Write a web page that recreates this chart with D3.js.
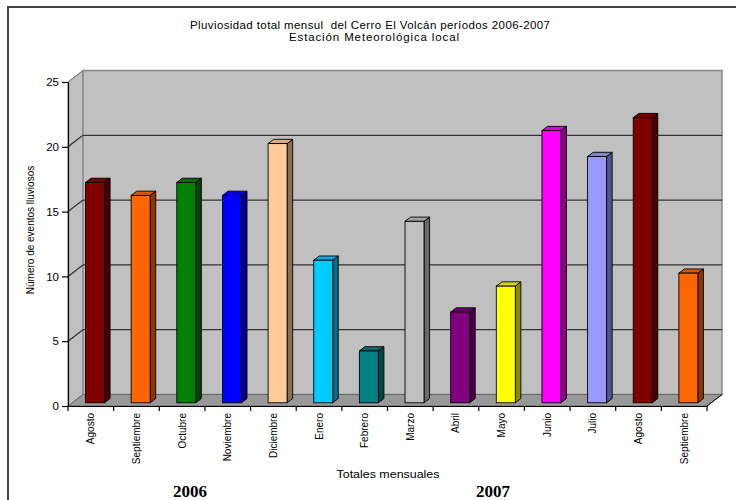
<!DOCTYPE html>
<html>
<head>
<meta charset="utf-8">
<script src="https://cdn.jsdelivr.net/npm/d3@7"></script>
<style>
  html, body { margin: 0; padding: 0; background: #fff; }
  svg { display: block; }
  text { font-family: Arial, "Liberation Sans", sans-serif; fill: #000; }
</style>
</head>
<body>
<svg id="chart" width="736" height="500"></svg>
<script>
// Monthly rainfall events, Cerro El Volcán, Aug 2006 – Sep 2007
const months = ["Agosto", "Septiembre", "Octubre", "Noviembre", "Diciembre", "Enero",
  "Febrero", "Marzo", "Abril", "Mayo", "Junio", "Julio", "Agosto", "Septiembre"];
const eventos = [17, 16, 17, 16, 20, 11, 4, 14, 7, 9, 21, 19, 22, 10];
const colores = ["#800000", "#ff6600", "#008000", "#0000ff", "#ffcc99", "#00ccff",
  "#008080", "#c0c0c0", "#800080", "#ffff00", "#ff00ff", "#9999ff", "#800000", "#ff6600"];
const yTicks = [0, 5, 10, 15, 20, 25];
const yearLabels = ["2006", "2007"];
const titleLines = ["Pluviosidad total mensul  del Cerro El Volcán períodos 2006-2007",
  "Estación Meteorológica local"];

const svg = d3.select("#chart");

// plot frame (front plane) and 3D depth offset
const plotL = 68, plotR = 707, plotB = 406, plotT = 82;
const DX = 15, DY = -11.5;

const x = d3.scaleBand().domain(d3.range(months.length)).range([plotL, plotR]).paddingInner(0);
const y = d3.scaleLinear().domain([0, 25]).range([plotB, plotT]);

// outer border
svg.append("path")
  .attr("d", `M8,500 L8,7 L736,7`)
  .attr("fill", "none").attr("stroke", "#444").attr("stroke-width", 2);

// titles
const titleLayout = [{ cx: 370, by: 28.5, w: 360 }, { cx: 374, by: 40.5, w: 170 }];
svg.append("g").selectAll("text").data(titleLines).join("text")
  .attr("x", (d, i) => titleLayout[i].cx).attr("y", (d, i) => titleLayout[i].by)
  .attr("text-anchor", "middle").style("white-space", "pre")
  .attr("textLength", (d, i) => titleLayout[i].w).attr("lengthAdjust", "spacing")
  .attr("font-size", 11.5).text(d => d);

const pt = (a, b) => a + "," + b;

// walls and floor
const g = svg.append("g");
g.append("polygon")
  .attr("points", [pt(plotL, plotB), pt(plotL, plotT), pt(plotL + DX, plotT + DY), pt(plotL + DX, plotB + DY)].join(" "))
  .attr("fill", "#c0c0c0").attr("stroke", "#888").attr("stroke-width", 1);
g.append("polygon")
  .attr("points", [pt(plotL + DX, plotT + DY), pt(plotR + DX, plotT + DY), pt(plotR + DX, plotB + DY), pt(plotL + DX, plotB + DY)].join(" "))
  .attr("fill", "#c0c0c0").attr("stroke", "#888").attr("stroke-width", 1.5);
g.append("polygon")
  .attr("points", [pt(plotL, plotB), pt(plotR, plotB), pt(plotR + DX, plotB + DY), pt(plotL + DX, plotB + DY)].join(" "))
  .attr("fill", "#999").attr("stroke", "#666").attr("stroke-width", 1);

// gridlines on back wall + side wall
const grid = yTicks.filter(v => v > 0 && v < 25);
g.selectAll(".gridBack").data(grid).join("line")
  .attr("x1", plotL + DX).attr("x2", plotR + DX)
  .attr("y1", d => y(d) + DY).attr("y2", d => y(d) + DY)
  .attr("stroke", "#333").attr("stroke-width", 1.3);
g.selectAll(".gridSide").data(grid).join("line")
  .attr("x1", plotL).attr("x2", plotL + DX)
  .attr("y1", d => y(d)).attr("y2", d => y(d) + DY)
  .attr("stroke", "#333").attr("stroke-width", 1.3);
g.append("line")
  .attr("x1", plotL).attr("x2", plotL + DX).attr("y1", y(25)).attr("y2", y(25) + DY)
  .attr("stroke", "#777").attr("stroke-width", 1);

// bars as boxes
const t0 = 0.28, t1 = 0.65, barW = 19;
const bdx = (t1 - t0) * DX, bdy = (t1 - t0) * DY;
function shade(c, k) {
  const r = d3.rgb(c);
  return d3.rgb(r.r * k, r.g * k, r.b * k).formatHex();
}
const bars = svg.append("g").selectAll("g").data(eventos.map((v, i) => ({ v, i }))).join("g");
bars.each(function (d) {
  const sel = d3.select(this);
  const x0 = x(d.i) + x.bandwidth() / 2 + t0 * DX - barW / 2;
  const x1 = x0 + barW;
  const yt = y(d.v) + t0 * DY, yb = y(0) + t0 * DY;
  const c = colores[d.i];
  sel.append("polygon")
    .attr("points", [pt(x1, yt), pt(x1 + bdx, yt + bdy), pt(x1 + bdx, yb + bdy), pt(x1, yb)].join(" "))
    .attr("fill", shade(c, 0.55)).attr("stroke", "#000").attr("stroke-width", 0.9).attr("stroke-linejoin", "round");
  sel.append("polygon")
    .attr("points", [pt(x0, yt), pt(x0 + bdx, yt + bdy), pt(x1 + bdx, yt + bdy), pt(x1, yt)].join(" "))
    .attr("fill", shade(c, 0.85)).attr("stroke", "#000").attr("stroke-width", 0.9).attr("stroke-linejoin", "round");
  sel.append("rect")
    .attr("x", x0).attr("y", yt).attr("width", barW).attr("height", yb - yt)
    .attr("fill", c).attr("stroke", "#000").attr("stroke-width", 0.9);
});

// y axis
const yAxis = svg.append("g").attr("transform", `translate(${plotL},0)`)
  .call(d3.axisLeft(y).tickValues(yTicks).tickSize(6).tickSizeOuter(0).tickPadding(3));
yAxis.selectAll("text").attr("font-size", 11.5).attr("font-family", "Arial, 'Liberation Sans', sans-serif");
yAxis.selectAll("line, path").attr("stroke", "#000").attr("stroke-width", 1.2);

// x axis with labels at category centres
const xAxis = svg.append("g").attr("transform", `translate(0,${plotB})`)
  .call(d3.axisBottom(x).tickFormat(i => months[i]).tickSize(0).tickSizeOuter(0));
xAxis.select("path").attr("stroke", "#000").attr("stroke-width", 1.2);
xAxis.selectAll("text")
  .attr("font-size", 10).attr("font-family", "Arial, 'Liberation Sans', sans-serif")
  .attr("transform", "rotate(-90)")
  .attr("x", -7).attr("y", 0).attr("dy", "0.35em")
  .style("text-anchor", "end");
// boundary ticks between categories
svg.append("g").selectAll("line").data(d3.range(months.length + 1)).join("line")
  .attr("x1", i => i < months.length ? x(i) : plotR)
  .attr("x2", i => i < months.length ? x(i) : plotR)
  .attr("y1", plotB).attr("y2", plotB + 5)
  .attr("stroke", "#000").attr("stroke-width", 1.2);
// floor right edge
svg.append("line").attr("x1", plotR).attr("y1", plotB).attr("x2", plotR + DX).attr("y2", plotB + DY)
  .attr("stroke", "#000").attr("stroke-width", 1);

// axis titles
svg.append("text")
  .attr("transform", "translate(34,230) rotate(-90)")
  .attr("text-anchor", "middle").attr("font-size", 10)
  .text("Número de eventos lluviosos");
svg.append("text")
  .attr("x", 388).attr("y", 478)
  .attr("text-anchor", "middle").attr("font-size", 11)
  .attr("textLength", 103).attr("lengthAdjust", "spacingAndGlyphs")
  .text("Totales mensuales");

// year labels
const yearX = [190, 493];
svg.append("g").selectAll("text").data(yearLabels).join("text")
  .attr("x", (d, i) => yearX[i])
  .attr("y", 497)
  .attr("text-anchor", "middle")
  .style("font-family", "'Liberation Serif', 'Times New Roman', serif")
  .attr("font-weight", "bold").attr("font-size", 17)
  .text(d => d);
</script>
</body>
</html>
